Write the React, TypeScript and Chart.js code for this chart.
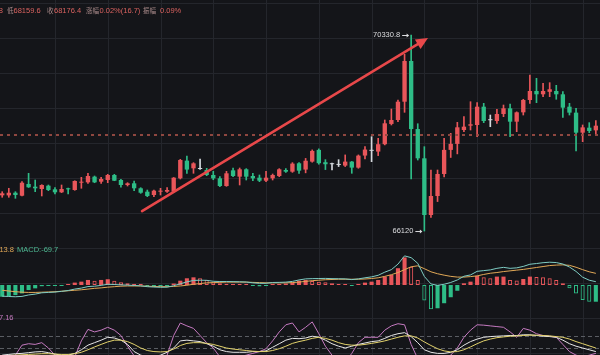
import React, { useEffect, useRef } from 'react';
import { Chart, registerables } from 'chart.js';

Chart.register(...registerables);

// ---------------- data ----------------
const OPEN = [
  66887, 66885, 66943, 66879, 67130, 67073, 67023, 67094, 67016, 66952,
  67038, 67001, 67158, 67166, 67288, 67180, 67216, 67324, 67216, 67109,
  67145, 67038, 66965, 66894, 66965, 66965, 66965, 67252, 67632, 67467,
  67452, 67431, 67324, 67252, 67087, 67424, 67288, 67446, 67302, 67266,
  67201, 67252, 67302, 67431, 67395, 67575, 67440, 67611, 67863, 67598,
  67555, 67540, 67525, 67611, 67482, 67741, 67843, 67827, 67985, 68420,
  68505, 68898, 69772, 68311, 67682, 66464, 66872, 67345, 67863, 67992,
  68290, 68383, 68398, 68791, 68500, 68483, 68634, 68756, 68469, 68670,
  68935, 69128, 69057, 69110, 69128, 69057, 68791, 68663, 68233, 68340,
  68283,
];
const HIGH = [
  66965, 67038, 66965, 67180, 67360, 67216, 67115, 67109, 67051, 67109,
  67040, 67200, 67274, 67360, 67302, 67274, 67338, 67338, 67231, 67158,
  67195, 67051, 67001, 67001, 67038, 67051, 67270, 67660, 67732, 67589,
  67667, 67467, 67402, 67288, 67402, 67474, 67474, 67460, 67360, 67324,
  67402, 67345, 67460, 67460, 67589, 67589, 67680, 67863, 67885, 67653,
  67577, 67653, 67755, 67615, 67755, 67932, 68147, 68112, 68505, 68741,
  68935, 69916, 70330.8, 68425, 67932, 67431, 67431, 68112, 68219, 68455,
  68576, 68898, 68877, 68863, 68612, 68735, 68827, 68849, 68680, 68950,
  69472, 69400, 69293, 69307, 69250, 69113, 68863, 68756, 68398, 68448,
  68491,
];
const LOW = [
  66845, 66845, 66823, 66873, 67055, 66965, 66873, 66987, 66915, 66945,
  66915, 66995, 67038, 67145, 67158, 67145, 67158, 67201, 67060, 67087,
  66987, 66930, 66858, 66858, 66894, 66952, 66952, 67238, 67360, 67360,
  67445, 67309, 67222, 67073, 67080, 67288, 67109, 67216, 67201, 67180,
  67180, 67216, 67288, 67380, 67380, 67360, 67370, 67598, 67555, 67440,
  67431, 67505, 67505, 67360, 67468, 67667, 67610, 67740, 67970, 68398,
  68469, 68670, 67238, 67645, 66120, 66410, 66753, 67280, 67700, 67777,
  68255, 68290, 68147, 68448, 68361, 68434, 68576, 68147, 68254, 68612,
  68863, 68877, 69006, 69006, 68950, 68563, 68612, 67842, 68040, 68233,
  68190,
];
const CLOSE = [
  66930, 66943, 66894, 67158, 67060, 67038, 67109, 67001, 66952, 67023,
  67016, 67195, 67180, 67302, 67166, 67238, 67324, 67201, 67109, 67145,
  67038, 66943, 66873, 66987, 66987, 67001, 67266, 67646, 67440, 67574,
  67452, 67324, 67252, 67087, 67360, 67302, 67446, 67288, 67252, 67201,
  67266, 67324, 67446, 67395, 67568, 67417, 67630, 67841, 67577, 67555,
  67555, 67540, 67611, 67482, 67740, 67870, 67843, 67985, 68434, 68505,
  68898, 69772, 68311, 67682, 66464, 66872, 67345, 67863, 67992, 68348,
  68362, 68413, 68791, 68483, 68500, 68634, 68756, 68469, 68670, 68935,
  69128, 69057, 69128, 69165, 69057, 68770, 68663, 68233, 68347, 68269,
  68383,
];

const HIST = [
  -49, -46, -42, -35, -21, -14, -5, -4, -3, -1,
  2, 10, 14, 21, 18, 21, 24, 18, 11, 7,
  4, 1, -4, -5, -5, -4, 6, 18, 28, 32,
  28, 21, 11, 7, 5, 4, 3, 1, -4, -6,
  -4, 3, 4, 6, 10, 18, 21, 17, 14, 11,
  7, 4, 3, -3, 3, 10, 14, 21, 35, 42,
  70, 115, 76, 21, -65, -101, -97, -76, -51, -24,
  7, 14, 38, 32, 28, 35, 35, 21, 19, 25,
  35, 33, 32, 28, 21, 7, -14, -35, -63, -70,
  -69.7,
];
const DEA = [
  -22, -25, -28, -30, -31, -31, -30, -29, -28, -26,
  -24, -22, -20, -17, -14, -12, -9, -7, -5, -4,
  -4, -4, -5, -6, -7, -7, -6, -4, -1, 3,
  6, 9, 10, 11, 12, 12, 12, 12, 11, 10,
  9, 9, 9, 9, 10, 12, 15, 18, 20, 22,
  23, 24, 24, 24, 24, 25, 27, 30, 36, 43,
  52, 64, 76, 80, 68, 55, 47, 41, 36, 33,
  33, 35, 38, 44, 49, 52, 56, 59, 62, 65,
  69, 73, 77, 81, 83, 84, 82, 74, 64, 55,
  48.65,
];
const DIF = [
  -46.5, -48, -49, -47.5, -41.5, -38, -32.5, -31, -29.5, -26.5,
  -23, -17, -13, -6.5, -5, -1.5, 3, 2, 0.5, -0.5,
  -2, -3.5, -7, -8.5, -9.5, -9, -3, 5, 13, 19,
  20, 19.5, 15.5, 14.5, 14.5, 14, 13.5, 12.5, 9, 7,
  7, 10.5, 11, 12, 15, 21, 25.5, 26.5, 27, 27.5,
  26.5, 26, 25.5, 22.5, 25.5, 30, 34, 40.5, 53.5, 64,
  87, 121.5, 114, 90.5, 35.5, 4.5, -1.5, 3, 10.5, 21,
  36.5, 42, 57, 60, 63, 69.5, 73.5, 69.5, 71.5, 77.5,
  86.5, 89.5, 93, 95, 93.5, 87.5, 75, 56.5, 32.5, 20,
  13.8,
];

const KV = [
  32.9, 34.6, 36.3, 37.1, 38.8, 40.6, 41.4, 38.8, 35.4, 32.9,
  32.9, 37.1, 45.7, 56.8, 62.8, 68.8, 75.7, 74, 68.8, 58.6,
  41.4, 32.9, 28.6, 28.6, 32.9, 39.7, 50, 67.1, 68.8, 67.1,
  65.4, 60.3, 54.3, 45.7, 41.4, 39.7, 39.7, 39.7, 41.4, 41.4,
  43.1, 51.7, 60.3, 68.8, 73.1, 72.3, 74, 78.3, 75.7, 68.8,
  60.3, 54.3, 50, 54.3, 58.6, 62, 65.4, 67.1, 73.1, 80,
  84.3, 86.8, 77.4, 62.8, 45.7, 39.7, 37.1, 37.1, 39.7, 45.7,
  56.8, 65.4, 71.4, 75.7, 77.4, 78.3, 79.1, 80, 80, 81.7,
  81.7, 80, 78.3, 77.4, 75.7, 68.8, 60.3, 54.3, 50, 45.7,
  41.4,
];
const DV = [
  31.1, 32, 32.9, 33.7, 34.6, 35.4, 36.3, 36.3, 35.4, 34.6,
  34.6, 36.3, 39.7, 45.7, 52.6, 58.6, 64.6, 68.8, 68.8, 65.4,
  58.6, 50, 44, 41.4, 40.6, 41.4, 47.4, 56, 61.1, 62.8,
  62.8, 61.1, 58.6, 54.3, 50, 47.4, 45.7, 44, 42.3, 41.4,
  41.4, 44, 48.3, 54.3, 61.1, 65.4, 68.8, 73.1, 75.7, 73.1,
  68.8, 62.8, 58.6, 56.8, 56.8, 58.6, 61.1, 63.7, 67.1, 71.4,
  75.7, 79.1, 79.1, 74, 64.6, 56, 48.3, 43.1, 40.6, 41.4,
  45.7, 52.6, 60.3, 67.1, 71.4, 74.8, 76.6, 78.3, 79.1, 80,
  80.8, 80.8, 80, 79.1, 77.4, 75.7, 71.4, 65.4, 60.3, 55.1,
  50,
];
const JV = [
  15.7, 24.3, 32.9, 56.8, 60.3, 58.6, 62.8, 50, 32.9, 20,
  20, 28.6, 67.1, 94.6, 88.6, 92.8, 99.7, 92.8, 80, 54.3,
  31.1, 15.7, 11.4, 11.4, 15.7, 32.9, 80, 110, 103.1, 97.1,
  80, 62.8, 50, 28.6, 15.7, 20, 28.6, 32.9, 37.1, 41.4,
  48.3, 67.1, 88.6, 105.7, 110, 88.6, 99.7, 112.6, 84.3, 54.3,
  32.9, 15.7, 15.7, 37.1, 62.8, 75.7, 75.7, 75.7, 92.8, 103.1,
  108.3, 105.7, 58.6, 24.3, 11.4, 11.4, 15.7, 20, 32.9, 50,
  75.7, 92.8, 105.7, 104.8, 103.1, 101.4, 99.7, 88.6, 75.7, 97.1,
  92.8, 84.3, 80, 78.3, 75.7, 58.6, 41.4, 32.9, 28.6, 32.9,
  37.16,
];

const GRID_IDX = [8, 16, 24, 32, 40, 48, 56, 64, 72, 80, 88];
const KDJ_LEVELS = [80, 50];
const LAST_PRICE = 68176.4;
const ARROW_FROM = [21.2, 66550];
const ARROW_TO = [64.55, 70266];

const HEADER_LABELS = ['低', '收', '涨幅', '振幅'];
const HEADER_VALUES = ['68159.6', '68176.4', '0.02%(16.7)', '0.09%'];
const HEADER_LEAD = '8';

// ---------------- layout / style ----------------
const W = 600;
const MAIN_H = 240;
const MACD_TOP = 240;
const MACD_H = 70;
const KDJ_TOP = 310;
const KDJ_H = 45;
const X_MIN = -0.334;
const X_MAX = 90.63;
const MAIN_MIN = 65927.4;
const MAIN_MAX = 71082.6;
const MACD_MIN = -104.25;
const MACD_MAX = 187.65;
const KDJ_MIN = 33.2;
const KDJ_MAX = 141.2;
const HGRID_START = 3.5;
const HGRID_STEP = 35;
const HEADER_LABEL_X = [7, 47, 86, 143];
const HEADER_VALUE_X = [13.5, 54, 99.5, 160];

const BG = '#141519';
const GRID = '#24262c';
const UP = '#e9565a';
const DOWN = '#2ebd87';
const DOJI = '#d4d8dc';
const DIF_C = '#7fcdc4';
const DEA_C = '#e2a957';
const K_C = '#e8e8e8';
const D_C = '#e3d36c';
const J_C = '#c57ac0';
const FONT = '"Liberation Sans", "Noto Sans CJK SC", sans-serif';
const CJK_FONT = '"Noto Sans CJK SC", sans-serif';

const N = CLOSE.length;
const IDX = Array.from({ length: N }, (_, i) => i);
const candleColor = (i: number) =>
  CLOSE[i] > OPEN[i] ? UP : CLOSE[i] < OPEN[i] ? DOWN : DOJI;

function gridPlugin(top: number, height: number) {
  return {
    id: 'bggrid',
    beforeDatasetsDraw(chart: any) {
      const { ctx, scales } = chart;
      ctx.save();
      ctx.strokeStyle = GRID;
      ctx.lineWidth = 1;
      ctx.beginPath();
      GRID_IDX.forEach((v) => {
        const x = Math.round(scales.x.getPixelForValue(v)) + 0.5;
        ctx.moveTo(x, 0);
        ctx.lineTo(x, height);
      });
      for (let g = HGRID_START; g < top + height; g += HGRID_STEP) {
        if (g >= top && g <= top + height) {
          const y = Math.floor(g - top) + 0.5;
          ctx.moveTo(0, y);
          ctx.lineTo(W, y);
        }
      }
      ctx.stroke();
      ctx.restore();
    },
  };
}

function baseOptions(yMin: number, yMax: number) {
  return {
    responsive: false,
    maintainAspectRatio: false,
    animation: false as const,
    devicePixelRatio: 1,
    events: [],
    layout: { padding: 0 },
    plugins: { legend: { display: false }, tooltip: { enabled: false } },
    scales: {
      x: { type: 'linear' as const, display: false, offset: false, min: X_MIN, max: X_MAX },
      y: { type: 'linear' as const, display: false, min: yMin, max: yMax },
    },
  };
}

const fmtPrice = (v: number) => (Number.isInteger(v) ? String(v) : v.toFixed(1));

function drawExtreme(ctx: CanvasRenderingContext2D, wx: number, wy: number, label: string) {
  ctx.font = `7.5px ${FONT}`;
  ctx.fillStyle = '#dcdde0';
  ctx.strokeStyle = '#dcdde0';
  ctx.textAlign = 'right';
  ctx.textBaseline = 'middle';
  ctx.fillText(label, wx - 11, wy);
  ctx.lineWidth = 1;
  ctx.beginPath();
  ctx.moveTo(wx - 9, wy + 0.5);
  ctx.lineTo(wx - 3, wy + 0.5);
  ctx.stroke();
  ctx.beginPath();
  ctx.moveTo(wx - 2, wy + 0.5);
  ctx.lineTo(wx - 4.5, wy - 1.5);
  ctx.lineTo(wx - 4.5, wy + 2.5);
  ctx.closePath();
  ctx.fill();
}

const mainOverlay = {
  id: 'mainOverlay',
  afterDatasetsDraw(chart: any) {
    const { ctx } = chart;
    const xs = chart.scales.x;
    const ys = chart.scales.y;
    ctx.save();
    // last price dotted line
    const py = Math.round(ys.getPixelForValue(LAST_PRICE));
    ctx.setLineDash([3, 4]);
    ctx.strokeStyle = 'rgba(150,74,66,0.95)';
    ctx.lineWidth = 2;
    ctx.beginPath();
    ctx.moveTo(0, py);
    ctx.lineTo(W, py);
    ctx.stroke();
    ctx.setLineDash([]);

    // extremes
    let hi = 0;
    let lo = 0;
    IDX.forEach((i) => {
      if (HIGH[i] > HIGH[hi]) hi = i;
      if (LOW[i] < LOW[lo]) lo = i;
    });
    drawExtreme(ctx, xs.getPixelForValue(hi), ys.getPixelForValue(HIGH[hi]), fmtPrice(HIGH[hi]));
    drawExtreme(ctx, xs.getPixelForValue(lo), ys.getPixelForValue(LOW[lo]), fmtPrice(LOW[lo]));

    // trend arrow
    const x1 = xs.getPixelForValue(ARROW_FROM[0]);
    const y1 = ys.getPixelForValue(ARROW_FROM[1]);
    const x2 = xs.getPixelForValue(ARROW_TO[0]);
    const y2 = ys.getPixelForValue(ARROW_TO[1]);
    const ang = Math.atan2(y2 - y1, x2 - x1);
    const head = 12;
    const bx = x2 - head * Math.cos(ang);
    const by = y2 - head * Math.sin(ang);
    ctx.strokeStyle = '#e8484a';
    ctx.fillStyle = '#e8484a';
    ctx.lineWidth = 2.6;
    ctx.lineCap = 'round';
    ctx.beginPath();
    ctx.moveTo(x1, y1);
    ctx.lineTo(bx + 2 * Math.cos(ang), by + 2 * Math.sin(ang));
    ctx.stroke();
    ctx.beginPath();
    ctx.moveTo(x2, y2);
    ctx.lineTo(bx + 5.5 * Math.sin(ang), by - 5.5 * Math.cos(ang));
    ctx.lineTo(bx - 5.5 * Math.sin(ang), by + 5.5 * Math.cos(ang));
    ctx.closePath();
    ctx.fill();

    // header
    ctx.textBaseline = 'middle';
    ctx.textAlign = 'right';
    ctx.font = `7.5px ${FONT}`;
    ctx.fillStyle = '#d9625f';
    ctx.fillText(HEADER_LEAD, 3, 10.5);
    ctx.textAlign = 'left';
    HEADER_LABELS.forEach((t, i) => {
      ctx.font = `6.5px ${CJK_FONT}`;
      ctx.fillStyle = '#a98a8a';
      ctx.fillText(t, HEADER_LABEL_X[i], 10.5);
      ctx.font = `7.5px ${FONT}`;
      ctx.fillStyle = '#d9625f';
      ctx.fillText(HEADER_VALUES[i], HEADER_VALUE_X[i], 10.5);
    });
    ctx.restore();
  },
};

const macdOverlay = {
  id: 'macdOverlay',
  afterDatasetsDraw(chart: any) {
    const { ctx } = chart;
    ctx.save();
    ctx.font = `7.5px ${FONT}`;
    ctx.textBaseline = 'middle';
    ctx.textAlign = 'right';
    ctx.fillStyle = DEA_C;
    ctx.fillText(`DIF:${DIF[N - 1].toFixed(1)}`, 14, 9.5);
    ctx.textAlign = 'left';
    ctx.fillStyle = '#4fb993';
    ctx.fillText(`MACD:${HIST[N - 1].toFixed(1)}`, 17, 9.5);
    ctx.restore();
  },
};

const kdjOverlay = {
  id: 'kdjOverlay',
  beforeDatasetsDraw(chart: any) {
    const { ctx } = chart;
    const ys = chart.scales.y;
    ctx.save();
    ctx.strokeStyle = '#5a5d63';
    ctx.lineWidth = 1;
    ctx.setLineDash([4, 3]);
    KDJ_LEVELS.forEach((lv) => {
      const y = Math.round(ys.getPixelForValue(lv)) + 0.5;
      ctx.beginPath();
      ctx.moveTo(0, y);
      ctx.lineTo(W, y);
      ctx.stroke();
    });
    ctx.restore();
  },
  afterDatasetsDraw(chart: any) {
    const { ctx } = chart;
    ctx.save();
    ctx.font = `7.5px ${FONT}`;
    ctx.textBaseline = 'middle';
    ctx.textAlign = 'right';
    ctx.fillStyle = J_C;
    ctx.fillText(`J:${JV[N - 1].toFixed(2)}`, 13.5, 7.5);
    ctx.restore();
  },
};

export default function App() {
  const mainRef = useRef<HTMLCanvasElement>(null);
  const macdRef = useRef<HTMLCanvasElement>(null);
  const kdjRef = useRef<HTMLCanvasElement>(null);

  useEffect(() => {
    document.body.style.margin = '0';
    document.body.style.background = BG;

    const main = new Chart(mainRef.current as HTMLCanvasElement, {
      type: 'bar',
      data: {
        datasets: [
          {
            data: IDX.map((i) => ({ x: i, y: [LOW[i], HIGH[i]] })) as any,
            backgroundColor: IDX.map(candleColor),
            barThickness: 1,
            grouped: false,
            order: 2,
          } as any,
          {
            data: IDX.map((i) => ({ x: i, y: [OPEN[i], CLOSE[i]] })) as any,
            backgroundColor: IDX.map(candleColor),
            barPercentage: 0.66,
            categoryPercentage: 1,
            minBarLength: 1,
            grouped: false,
            order: 1,
          } as any,
        ],
      },
      options: baseOptions(MAIN_MIN, MAIN_MAX) as any,
      plugins: [gridPlugin(0, MAIN_H), mainOverlay],
    });

    const histColor = (i: number) => (HIST[i] >= 0 ? UP : DOWN);
    const histFilled = (i: number) => i === 0 || HIST[i] >= HIST[i - 1];
    const macd = new Chart(macdRef.current as HTMLCanvasElement, {
      type: 'bar',
      data: {
        datasets: [
          {
            type: 'line',
            data: IDX.map((i) => ({ x: i, y: DIF[i] })),
            borderColor: DIF_C,
            borderWidth: 1,
            pointRadius: 0,
            tension: 0,
            order: 0,
          } as any,
          {
            type: 'line',
            data: IDX.map((i) => ({ x: i, y: DEA[i] })),
            borderColor: DEA_C,
            borderWidth: 1,
            pointRadius: 0,
            tension: 0,
            order: 0,
          } as any,
          {
            type: 'bar',
            data: IDX.map((i) => ({ x: i, y: HIST[i] })),
            backgroundColor: IDX.map((i) => (histFilled(i) ? histColor(i) : 'rgba(0,0,0,0)')),
            borderColor: IDX.map(histColor),
            borderWidth: IDX.map((i) => (histFilled(i) ? 0 : 1)),
            borderSkipped: false,
            barPercentage: 0.62,
            categoryPercentage: 1,
            minBarLength: 1,
            grouped: false,
            order: 1,
          } as any,
        ],
      },
      options: baseOptions(MACD_MIN, MACD_MAX) as any,
      plugins: [gridPlugin(MACD_TOP, MACD_H), macdOverlay],
    });

    const lineDs = (vals: number[], color: string) => ({
      data: IDX.map((i) => ({ x: i, y: vals[i] })),
      borderColor: color,
      borderWidth: 1,
      pointRadius: 0,
      tension: 0,
    });
    const kdj = new Chart(kdjRef.current as HTMLCanvasElement, {
      type: 'line',
      data: {
        datasets: [lineDs(DV, D_C), lineDs(KV, K_C), lineDs(JV, J_C)] as any,
      },
      options: baseOptions(KDJ_MIN, KDJ_MAX) as any,
      plugins: [gridPlugin(KDJ_TOP, KDJ_H), kdjOverlay],
    });

    return () => {
      main.destroy();
      macd.destroy();
      kdj.destroy();
    };
  }, []);

  return (
    <div style={{ position: 'relative', width: W, height: 355, background: BG, overflow: 'hidden' }}>
      <canvas ref={mainRef} width={W} height={MAIN_H} style={{ position: 'absolute', left: 0, top: 0 }} />
      <canvas ref={macdRef} width={W} height={MACD_H} style={{ position: 'absolute', left: 0, top: MACD_TOP }} />
      <canvas ref={kdjRef} width={W} height={KDJ_H} style={{ position: 'absolute', left: 0, top: KDJ_TOP }} />
    </div>
  );
}
